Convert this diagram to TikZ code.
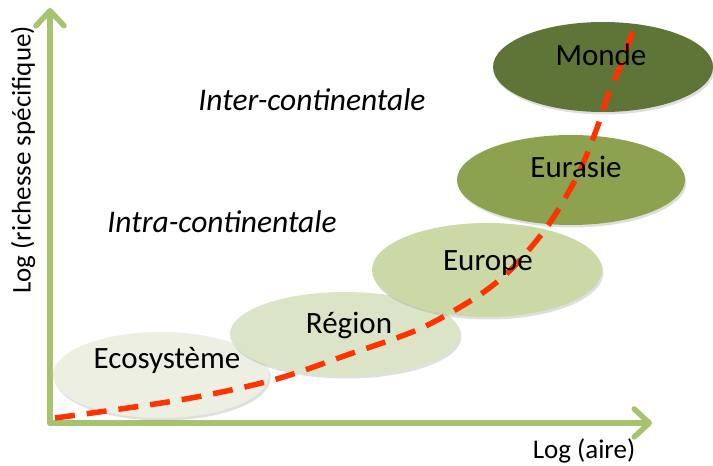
\documentclass[tikz,border=0pt]{standalone}
\usepackage{fontspec}
\setmainfont{Carlito}
\usetikzlibrary{arrows.meta,shadows,shapes.geometric}
\definecolor{axisgreen}{HTML}{A6C36E}
\definecolor{ecofill}{HTML}{ECEFE1}
\definecolor{regfill}{HTML}{DCE4C8}
\definecolor{eurfill}{HTML}{CAD9A6}
\definecolor{easfill}{HTML}{8CA24E}
\definecolor{monfill}{HTML}{5F7437}
\definecolor{curvered}{HTML}{FF3300}
\tikzset{
  blob/.style={ellipse, draw=none, inner sep=0pt,
    drop shadow={opacity=0.25, shadow xshift=1.5pt, shadow yshift=-2.5pt}},
  axisline/.style={draw=axisgreen, line width=5.5pt, line cap=round,
    -{Straight Barb[length=15pt, width=28pt, line cap=round, line join=round]}},
  biglabel/.style={font=\fontsize{31}{36}\selectfont, text=black, inner sep=0pt},
  zonelabel/.style={font=\fontsize{31.5}{36}\selectfont\itshape, text=black, inner sep=0pt},
  axlabel/.style={font=\fontsize{27}{31}\selectfont, text=black, inner sep=0pt},
  trend/.style={draw=curvered, line width=5.5pt, dash pattern=on 20pt off 12pt}
}
\begin{document}
\begin{tikzpicture}[x=1pt, y=1pt]
\useasboundingbox (0,0) rectangle (713,466);
% axes
\coordinate (origin) at (50,43);
\coordinate (ytip) at (50,458);
\coordinate (xtip) at (652,43);
\draw[axisline] (origin) -- (ytip);
\draw[axisline] (origin) -- (xtip);
% ellipses
\node[blob, fill=ecofill, minimum width=216pt, minimum height=86pt] (eco) at (161,91) {};
\node[blob, fill=regfill, minimum width=230pt, minimum height=84pt] (reg) at (345,132) {};
\node[blob, fill=eurfill, minimum width=230pt, minimum height=94pt] (eur) at (487,196) {};
\node[blob, fill=easfill, minimum width=228pt, minimum height=90pt] (eas) at (571,286) {};
\node[blob, fill=monfill, minimum width=220pt, minimum height=90pt] (mon) at (603,399) {};
% trend curve
\coordinate (c0) at (55,48);
\coordinate (c1) at (636,444);
\draw[trend] plot[smooth, tension=0.55] coordinates {
  (c0) (180,66) (273,86) (347,111) (417,136) (467,163) (497,184)
  (520,206) (547,239) (568,273) (582,300) (597,338) (608,371) (622,404) (c1)};
% labels
\node[biglabel] (teco) at (167,106) {Ecosystème};
\node[biglabel] (treg) at (349,140) {Région};
\node[biglabel] (teur) at (488,203) {Europe};
\node[biglabel] (teas) at (576,299) {Eurasie};
\node[biglabel] (tmon) at (601,411) {Monde};
\node[zonelabel] (inter) at (312,366) {Inter-continentale};
\node[zonelabel] (intra) at (222,244) {Intra-continentale};
\node[axlabel] (xlab) at (584,15) {Log (aire)};
\node[axlabel, rotate=90] (ylab) at (23,306) {Log (richesse spécifique)};
\end{tikzpicture}
\end{document}
